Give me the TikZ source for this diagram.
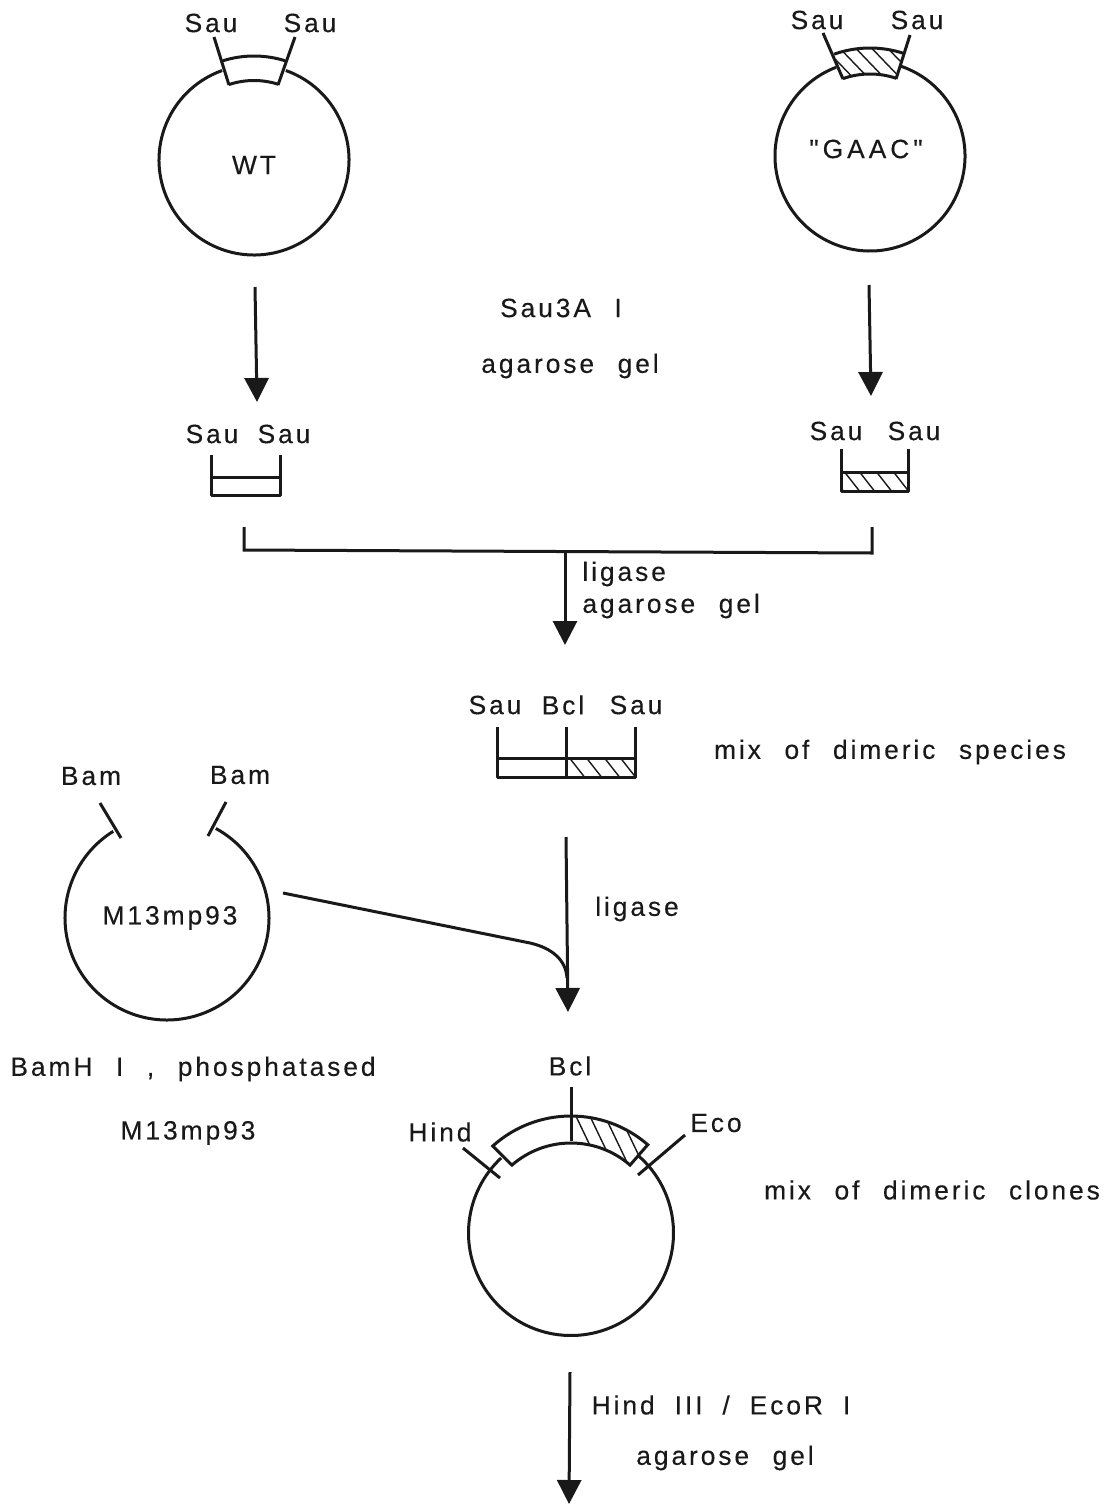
\documentclass[tikz,border=0pt]{standalone}
\usepackage{fontspec}
\setmainfont[LetterSpace=11,WordSpace=2.3,FakeBold=0.25]{Liberation Sans}
\newfontfamily\gaacfont[LetterSpace=15,FakeBold=0.25]{Liberation Sans}
\newfontfamily\hindfont[LetterSpace=11,WordSpace=1.95,FakeBold=0.25]{Liberation Sans}
\usetikzlibrary{arrows.meta}
\tikzset{
  lab/.style={font=\fontsize{13.2}{15}\selectfont, inner sep=0pt, text=black!90},
  ln/.style={line width=1.5pt, black!90},
  hatch/.style={line width=0.7pt, black!90},
  arr/.style={line width=1.5pt, black!90, -{Triangle[width=12pt,length=12pt]}}
}
\begin{document}
\begin{tikzpicture}[x=0.5pt,y=0.5pt]
        \useasboundingbox (0,0) rectangle (1114,-1505);

        % WT plasmid
        \begin{scope}[shift={(254,-160)}]
            \draw[ln] (70.4:95) arc (70.4:-250.4:95);
            \draw[ln] (107.4:104) arc (107.4:72.6:104);
            \draw[ln] (108.4:79.5) arc (108.4:72.3:79.5);
            \draw[ln] (-40,123) -- (-25,75);
            \draw[ln] (41,123) -- (24,75);
            \node[lab] (wt) at (0,-5) {WT};
        \end{scope}
        \node[lab] (sauA) at (211,-23) {Sau};
        \node[lab] (sauB) at (310,-23) {Sau};

        % GAAC plasmid
        \begin{scope}[shift={(870,-156)}]
            \draw[ln] (71.4:95) arc (71.4:-249.1:95);
            \begin{scope}
                \clip (109.4:108) arc (109.4:72.2:108) -- (71.3:82) arc (71.3:109.3:82) -- cycle;
                \foreach \x in {-45,-30,-14,2,18,34}
                    \draw[hatch] (\x-12,120) -- (\x+36,70);
            \end{scope}
            \draw[ln] (109.4:108) arc (109.4:72.2:108);
            \draw[ln] (109.3:82) arc (109.3:71.3:82);
            \draw[ln] (-47,123) -- (-27,77);
            \draw[ln] (40,121) -- (26,77);
            \node[lab] (gaac) at (-4,7) {\gaacfont "GAAC"};
        \end{scope}
        \node[lab] (sauC) at (817,-20) {Sau};
        \node[lab] (sauD) at (917,-20) {Sau};

        % Digest
        \coordinate (wtA) at (255,-287);
        \coordinate (wtB) at (257,-402);
        \draw[arr] (wtA) -- (wtB);
        \coordinate (gaacA) at (869,-285);
        \coordinate (gaacB) at (871,-396);
        \draw[arr] (gaacA) -- (gaacB);
        \node[lab] (sau3a) at (561,-308) {Sau3A I};
        \node[lab] (gelA) at (570,-366) {agarose gel};

        % Fragments
        \node[lab] (sauE) at (212,-434) {Sau};
        \node[lab] (sauF) at (284,-434) {Sau};
        \draw[ln, line join=round] (211,-455) -- (211,-495) -- (280,-495) -- (280,-455);
        \draw[ln] (211,-477) -- (280,-477);
        \node[lab] (sauG) at (836,-431) {Sau};
        \node[lab] (sauH) at (914,-431) {Sau};
        \begin{scope}
            \clip (841,-472) rectangle (908,-491);
            \foreach \x in {827,843,858,875,892}
                \draw[hatch] (\x,-470) -- (\x+18,-493);
        \end{scope}
        \draw[ln, line join=round] (841,-449) -- (841,-491) -- (908,-491) -- (908,-449);
        \draw[ln] (841,-472) -- (908,-472);

        % Ligation
        \coordinate (brA) at (244,-527);
        \coordinate (brB) at (244,-550);
        \coordinate (brC) at (872,-553);
        \coordinate (brD) at (872,-527);
        \draw[ln] (brA) -- (brB) -- (brC) -- (brD);
        \coordinate (ligA) at (565,-551);
        \coordinate (ligB) at (565,-645);
        \draw[arr] (ligA) -- (ligB);
        \node[lab, anchor=west] (ligase) at (582,-574) {ligase};
        \node[lab, anchor=west] (gelB) at (582,-606) {agarose gel};

        % Dimer
        \node[lab] (sauI) at (495,-705) {Sau};
        \node[lab] (bclA) at (563,-705) {Bcl};
        \node[lab] (sauJ) at (636,-705) {Sau};
        \begin{scope}
            \clip (566,-758) rectangle (635,-777);
            \foreach \x in {568,585,603,619}
                \draw[hatch] (\x,-756) -- (\x+18,-779);
        \end{scope}
        \draw[ln, line join=round] (497,-727) -- (497,-777) -- (635,-777) -- (635,-727);
        \draw[ln] (566,-727) -- (566,-777);
        \draw[ln] (497,-758) -- (635,-758);
        \node[lab] (mixA) at (890,-752) {mix of dimeric species};

        % M13 vector
        \begin{scope}[shift={(167,-918)}]
            \draw[ln] (61.4:102) arc (61.4:-238.2:102);
            \node[lab] (m13A) at (3,0) {M13mp93};
        \end{scope}
        \draw[ln] (100,-803) -- (121,-838);
        \draw[ln] (226,-802) -- (208,-836);
        \node[lab] (bamA) at (91,-776) {Bam};
        \node[lab] (bamB) at (240,-775) {Bam};
        \node[lab] (bamh) at (193,-1069) {BamH I , phosphatased};
        \node[lab] (m13B) at (188,-1133) {M13mp93};

        % Second ligation
        \coordinate (dimA) at (566,-837);
        \coordinate (dimB) at (568,-1012);
        \coordinate (vecA) at (283,-893);
        \coordinate (vecB) at (530,-943);
        \coordinate (vecC) at (567,-978);
        \draw[arr] (dimA) -- (dimB);
        \draw[ln] (vecA) -- (vecB) .. controls (552,-948) and (566,-960) .. (vecC);
        \node[lab] (ligC) at (637,-909) {ligase};

        % Clone
        \begin{scope}[shift={(571,-1233)}]
            \draw[ln] (49:102.5) arc (49:-227:102.5);
            \begin{scope}
                \clip (90:117) arc (90:49:117) -- (49:90) arc (49:90:90) -- cycle;
                \foreach \x in {6,20,35,50,64}
                    \draw[hatch] (\x-4,123) -- (\x+30,52);
            \end{scope}
            \draw[ln] (132:117) arc (132:49:117) -- (49:90) arc (49:131:90) -- cycle;
            \draw[ln] (0,146) -- (0,92);
            \node[lab] (bclB) at (-1,167) {Bcl};
            \node[lab] (hind) at (-131,101) {Hind};
            \node[lab] (eco) at (145,110) {Eco};
            \draw[ln] (-108,85) -- (-71,55);
            \draw[ln] (114,98) -- (67,58);
        \end{scope}
        \node[lab] (mixB) at (932,-1190) {mix of dimeric clones};

        % Final digest
        \coordinate (cloA) at (570,-1372);
        \coordinate (cloB) at (569,-1504);
        \draw[arr] (cloA) -- (cloB);
        \node[lab] (hindeco) at (721,-1405) {\hindfont Hind III / EcoR I};
        \node[lab] (gelC) at (725,-1458) {agarose gel};
    \end{tikzpicture}
\end{document}
